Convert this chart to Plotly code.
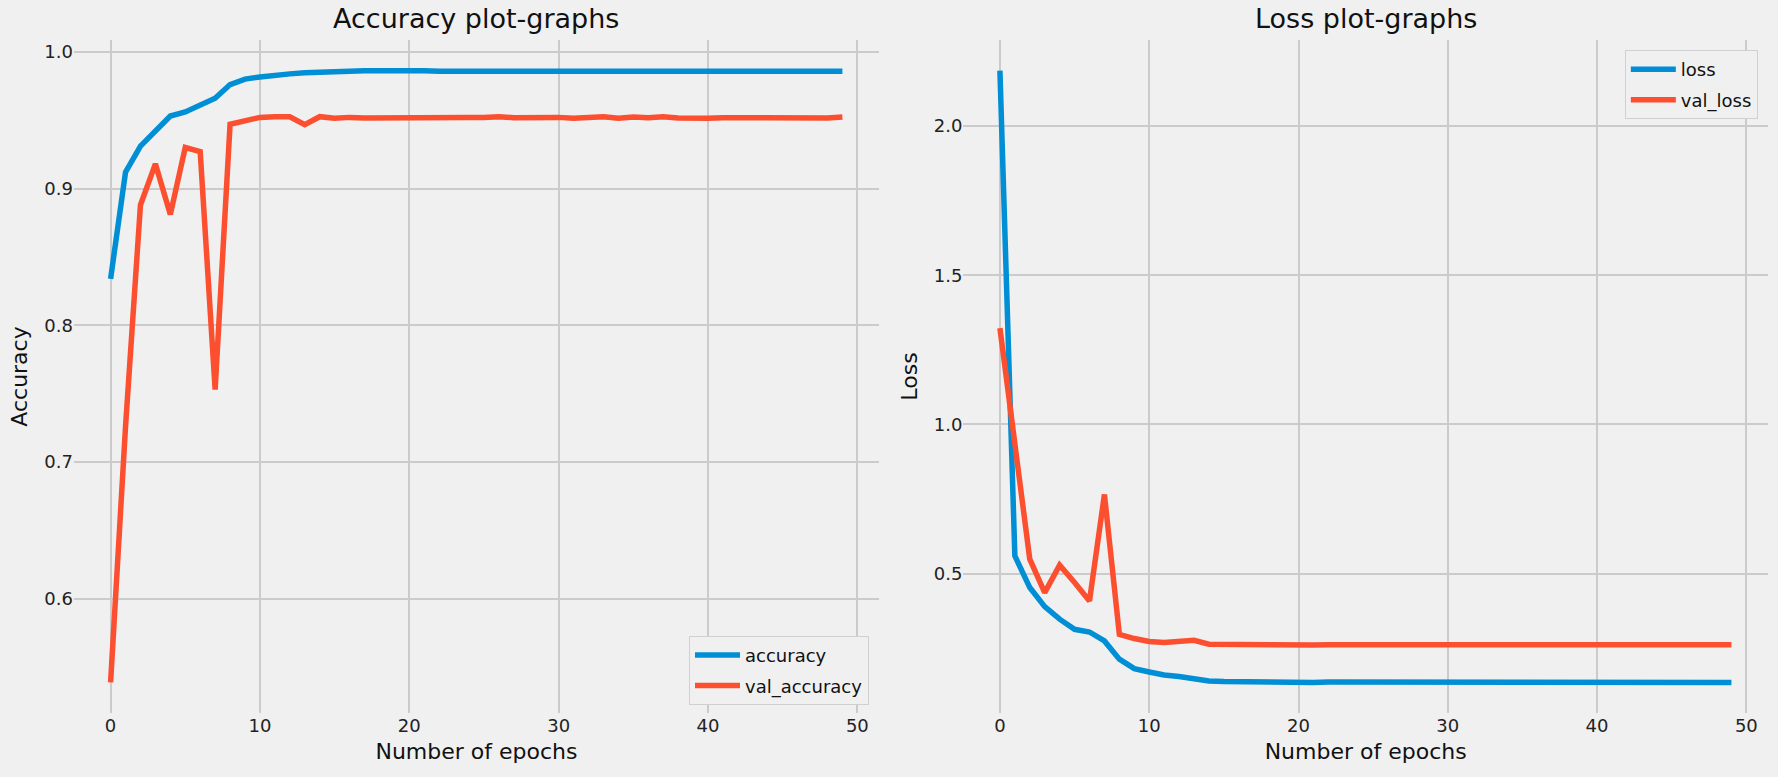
import plotly.graph_objects as go

epochs = list(range(50))

accuracy = [0.834, 0.912, 0.931, 0.942, 0.953, 0.956, 0.961, 0.966, 0.976, 0.980,
            0.9815, 0.983, 0.9838, 0.9846, 0.9853, 0.9858, 0.9858, 0.986, 0.9862, 0.986,
            0.9859, 0.986, 0.9857, 0.9857, 0.9858, 0.986, 0.9862, 0.9858, 0.9858, 0.986,
            0.9856, 0.986, 0.986, 0.986, 0.9861, 0.986, 0.986, 0.9858, 0.9859, 0.9856,
            0.9857, 0.986, 0.9859, 0.9858, 0.9858, 0.9859, 0.986, 0.986, 0.9858, 0.9858]

val_accuracy = [0.539, 0.726, 0.888, 0.918, 0.881, 0.930, 0.927, 0.753, 0.947, 0.950,
                0.952, 0.9525, 0.9525, 0.9467, 0.9525, 0.9513, 0.952, 0.9515, 0.9517, 0.9512,
                0.9518, 0.952, 0.952, 0.952, 0.952, 0.952, 0.9525, 0.9517, 0.952, 0.952,
                0.952, 0.9513, 0.9518, 0.9525, 0.9513, 0.9522, 0.9518, 0.9525, 0.9515, 0.9512,
                0.9513, 0.9518, 0.9517, 0.9515, 0.9518, 0.9518, 0.9515, 0.9518, 0.9515, 0.9522]

loss = [2.186, 0.559, 0.453, 0.389, 0.347, 0.313, 0.304, 0.274, 0.213, 0.181,
        0.170, 0.160, 0.155, 0.148, 0.140, 0.138, 0.137, 0.136, 0.135, 0.136,
        0.135, 0.135, 0.136, 0.136, 0.136, 0.135, 0.135, 0.136, 0.136, 0.135,
        0.135, 0.135, 0.135, 0.135, 0.135, 0.135, 0.135, 0.135, 0.135, 0.136,
        0.136, 0.135, 0.135, 0.135, 0.135, 0.135, 0.135, 0.135, 0.135, 0.135]

val_loss = [1.3225, 0.935, 0.548, 0.436, 0.528, 0.470, 0.408, 0.765, 0.296, 0.282,
            0.272, 0.269, 0.271, 0.276, 0.263, 0.262, 0.262, 0.2606, 0.261, 0.261,
            0.261, 0.2605, 0.261, 0.261, 0.261, 0.2605, 0.261, 0.261, 0.261, 0.2605,
            0.262, 0.262, 0.261, 0.2615, 0.261, 0.261, 0.2615, 0.261, 0.2615, 0.261,
            0.261, 0.2615, 0.261, 0.261, 0.261, 0.261, 0.261, 0.261, 0.2615, 0.261]

acc_ticks = [0.6, 0.7, 0.8, 0.9, 1.0]
loss_ticks = [0.5, 1.0, 1.5, 2.0]
epoch_ticks = [0, 10, 20, 30, 40, 50]

BLUE = "#008fd5"
RED = "#fc4f30"
BG = "#f0f0f0"
GRID = "#cbcbcb"
FONT = "DejaVu Sans"
LW = 5.5

fig = go.Figure()
fig.add_trace(go.Scatter(x=epochs, y=accuracy, mode="lines", name="accuracy", legendgroup="a1",
                         line=dict(color=BLUE, width=LW), xaxis="x", yaxis="y", legend="legend"))
fig.add_trace(go.Scatter(x=epochs, y=val_accuracy, mode="lines", name="val_accuracy", legendgroup="a2",
                         line=dict(color=RED, width=LW), xaxis="x", yaxis="y", legend="legend"))
fig.add_trace(go.Scatter(x=epochs, y=loss, mode="lines", name="loss", legendgroup="l1",
                         line=dict(color=BLUE, width=LW), xaxis="x2", yaxis="y2", legend="legend2"))
fig.add_trace(go.Scatter(x=epochs, y=val_loss, mode="lines", name="val_loss", legendgroup="l2",
                         line=dict(color=RED, width=LW), xaxis="x2", yaxis="y2", legend="legend2"))

def xax(domain, anchor):
    return dict(domain=domain, anchor=anchor, range=[-2.45, 51.45], tickvals=epoch_ticks,
                showgrid=True, gridcolor=GRID, gridwidth=1.6, zeroline=False, showline=False,
                ticks="", tickfont=dict(size=18, color="#222", family=FONT),
                title=dict(text="Number of epochs", font=dict(size=22, color="#111", family=FONT), standoff=8))

lo_a = min(accuracy + val_accuracy); hi_a = max(accuracy + val_accuracy)
pad_a = (hi_a - lo_a) * 0.05
lo_l = min(loss + val_loss); hi_l = max(loss + val_loss)
pad_l = (hi_l - lo_l) * 0.05

legend_common = dict(bgcolor=BG, bordercolor="#d0d0d0", borderwidth=1, tracegroupgap=4,
                     itemwidth=45, font=dict(size=18, color="#111", family=FONT))

fig.update_layout(
    width=1778, height=777,
    paper_bgcolor=BG, plot_bgcolor=BG,
    font=dict(family=FONT, color="#111"),
    margin=dict(l=74, r=10, t=40, b=64),
    showlegend=True,
    xaxis=xax([0, 0.4752], "y"),
    xaxis2=xax([0.525, 1.0], "y2"),
    yaxis=dict(domain=[0, 1], anchor="x", range=[lo_a - pad_a, hi_a + pad_a], tickvals=acc_ticks,
               tickformat=".1f", showgrid=True, gridcolor=GRID, gridwidth=1.6, zeroline=False,
               showline=False, ticks="", tickfont=dict(size=18, color="#222", family=FONT),
               title=dict(text="Accuracy", font=dict(size=22, color="#111", family=FONT), standoff=10)),
    yaxis2=dict(domain=[0, 1], anchor="x2", range=[lo_l - pad_l, hi_l + pad_l], tickvals=loss_ticks,
                tickformat=".1f", showgrid=True, gridcolor=GRID, gridwidth=1.6, zeroline=False,
                showline=False, ticks="", tickfont=dict(size=18, color="#222", family=FONT),
                title=dict(text="Loss", font=dict(size=22, color="#111", family=FONT), standoff=10)),
    legend=dict(x=0.4693, y=0.012, xanchor="right", yanchor="bottom", **legend_common),
    legend2=dict(x=0.994, y=0.985, xanchor="right", yanchor="top", **legend_common),
    annotations=[
        dict(text="Accuracy plot-graphs", xref="paper", yref="paper", x=0.2376, y=1.0,
             xanchor="center", yanchor="bottom", yshift=4, showarrow=False,
             font=dict(size=27, color="#111", family=FONT)),
        dict(text="Loss plot-graphs", xref="paper", yref="paper", x=0.7625, y=1.0,
             xanchor="center", yanchor="bottom", yshift=4, showarrow=False,
             font=dict(size=27, color="#111", family=FONT)),
    ],
)

fig.write_html("out.html", config={"displayModeBar": False},
               post_script="document.body.style.margin='0';document.body.style.background='#f0f0f0';")
